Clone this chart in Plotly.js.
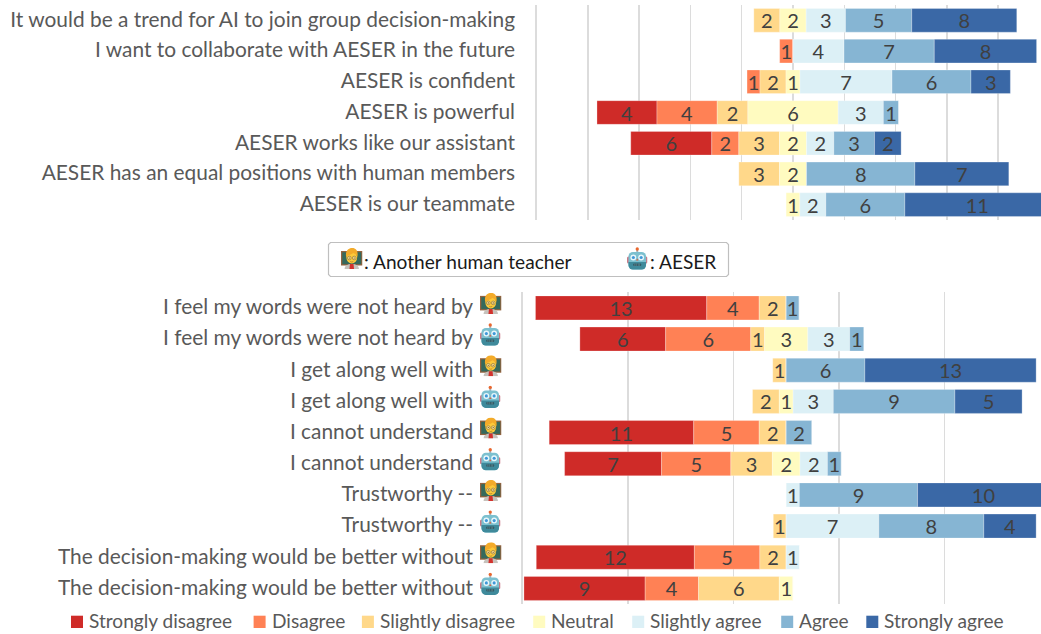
<!DOCTYPE html>
<html><head><meta charset="utf-8">
<script src="https://cdn.plot.ly/plotly-3.0.1.min.js"></script>
<style>html,body{margin:0;padding:0;background:#fff}</style></head>
<body><div id="chart" style="width:1041px;height:634px"></div>
<script>
const W = 1041, H = 634;
const seriesNames = ['Strongly disagree','Disagree','Slightly disagree','Neutral','Slightly agree','Agree','Strongly agree'];
const seriesColors = ['#CF2B28','#FF8155','#FFD88A','#FFFBC0','#DCF0F6','#86B5D3','#3A68A6'];

const topCategories = ['It would be a trend for AI to join group decision-making','I want to collaborate with AESER in the future','AESER is confident','AESER is powerful','AESER works like our assistant','AESER has an equal positions with human members','AESER is our teammate'];
// bar lengths as drawn on the value axis
const topStronglyDisagree = [0,0,0,4.68,6.32,0,0];
const topDisagree         = [0,1.04,1.01,4.70,2.11,0,0];
const topSlightlyDisagree = [2.03,0,2.03,2.39,3.17,3.17,0];
const topNeutral          = [2.05,0,1.09,7.04,2.11,2.11,1.07];
const topSlightlyAgree    = [3.07,3.98,7.18,3.53,2.13,0,2.03];
const topAgree            = [5.17,7.04,6.16,1.19,3.17,8.45,6.16];
const topStronglyAgree    = [8.19,7.98,3.07,0,2.08,7.33,11.31];
// printed labels
const topLabelsSD  = [0,0,0,4,6,0,0];
const topLabelsD   = [0,1,1,4,2,0,0];
const topLabelsSlD = [2,0,2,2,3,3,0];
const topLabelsN   = [2,0,1,6,2,2,1];
const topLabelsSlA = [3,4,7,3,2,0,2];
const topLabelsA   = [5,7,6,1,3,8,6];
const topLabelsSA  = [8,8,3,0,2,7,11];

const botCategories = ['I feel my words were not heard by','I feel my words were not heard by','I get along well with','I get along well with','I cannot understand','I cannot understand','Trustworthy --','Trustworthy --','The decision-making would be better without','The decision-making would be better without'];
const botIcons = ['teacher','robot','teacher','robot','teacher','robot','teacher','robot','teacher','robot'];
const botStronglyDisagree = [13,6.51,0,0,10.97,7.36,0,0,12,9.2];
const botDisagree         = [3.98,6.46,0,0,4.97,5.26,0,0,4.97,4.05];
const botSlightlyDisagree = [2.05,1.05,1.02,2.03,2.05,3.15,0,0.98,2,6.13];
const botNeutral          = [0,3.28,0,1.05,0,2.10,0,0,0,1.05];
const botSlightlyAgree    = [0,3.18,0,3.05,0,2.08,1.0,7.03,1.02,0];
const botAgree            = [0.98,1.08,5.97,9.23,1.95,1.05,8.97,7.97,0,0];
const botStronglyAgree    = [0,0,13.0,5.10,0,0,10,3.97,0,0];
const botLabelsSD  = [13,6,0,0,11,7,0,0,12,9];
const botLabelsD   = [4,6,0,0,5,5,0,0,5,4];
const botLabelsSlD = [2,1,1,2,2,3,0,1,2,6];
const botLabelsN   = [0,3,0,1,0,2,0,0,0,1];
const botLabelsSlA = [0,3,0,3,0,2,1,7,1,0];
const botLabelsA   = [1,1,6,9,2,1,9,8,0,0];
const botLabelsSA  = [0,0,13,5,0,0,10,4,0,0];

const FONT = 'Lato, "Open Sans", sans-serif';
const px = v => v / W;
const py = v => 1 - v / H;

function traces(vals, labels, xa, ya) {
  const n = vals[0].length, out = [];
  const starts = [];
  for (let i = 0; i < n; i++) {
    // the Neutral segment is centred on zero, the rest stack outward from it
    starts.push(-vals[3][i] / 2 - vals[0][i] - vals[1][i] - vals[2][i]);
  }
  const cursor = starts.slice();
  vals.forEach((v, s) => {
    const base = cursor.slice();
    v.forEach((w, i) => cursor[i] += w);
    out.push({
      type: 'bar', orientation: 'h', name: seriesNames[s], showlegend: false,
      x: v, y: v.map((_, i) => i), base: base,
      xaxis: xa, yaxis: ya,
      marker: {color: seriesColors[s], line: {color: 'rgba(255,255,255,0.45)', width: 0.6}},
      text: labels[s].map(l => l ? String(l) : ''),
      textposition: 'inside', insidetextanchor: 'middle', textangle: 0, constraintext: 'none',
      textfont: {family: FONT, size: 20, color: '#404040'},
      hoverinfo: 'skip'
    });
  });
  return out;
}

const data = [
  ...traces([topStronglyDisagree,topDisagree,topSlightlyDisagree,topNeutral,topSlightlyAgree,topAgree,topStronglyAgree],
            [topLabelsSD,topLabelsD,topLabelsSlD,topLabelsN,topLabelsSlA,topLabelsA,topLabelsSA],'x','y'),
  ...traces([botStronglyDisagree,botDisagree,botSlightlyDisagree,botNeutral,botSlightlyAgree,botAgree,botStronglyAgree],
            [botLabelsSD,botLabelsD,botLabelsSlD,botLabelsN,botLabelsSlA,botLabelsA,botLabelsSA],'x2','y2')
];

const svgUri = s => 'data:image/svg+xml;base64,' + btoa(s);
const teacherSvg = svgUri(`<svg xmlns="http://www.w3.org/2000/svg" viewBox="0 0 42 42" width="84" height="84">
<rect x="0" y="6" width="42" height="29" fill="#93633f"/><rect x="2.500" y="8.500" width="37" height="24" fill="#35695c"/>
<path d="M7 42c0-7 6-10 14-10s14 3 14 10z" fill="#c6c2bc"/><path d="M16.500 42l1-10h7l1 10z" fill="#d3322c"/>
<ellipse cx="21" cy="19" rx="10.500" ry="12" fill="#fcc93a"/>
<path d="M10 18C8 6 14 0 22 0c8 0 12 7 10 18-2-5-5-7-8-8-3 3-9 3-14 8z" fill="#f3ab2a"/>
<circle cx="16.200" cy="20" r="3.600" fill="#fde08a" stroke="#6b5a3a" stroke-width="1"/><circle cx="25.800" cy="20" r="3.600" fill="#fde08a" stroke="#6b5a3a" stroke-width="1"/>
<circle cx="16.200" cy="20" r="1.100" fill="#5a3b20"/><circle cx="25.800" cy="20" r="1.100" fill="#5a3b20"/>
<path d="M18 27q3 2 6 0" stroke="#8a5a20" stroke-width="1" fill="none"/></svg>`);
const robotSvg = svgUri(`<svg xmlns="http://www.w3.org/2000/svg" viewBox="0 0 42 46" width="84" height="92">
<rect x="19" y="5" width="4" height="7" fill="#a8b0b4"/><circle cx="21" cy="4" r="3.400" fill="#e9672f"/>
<rect x="0" y="19" width="6" height="14" rx="3" fill="#c97a86"/><rect x="36" y="19" width="6" height="14" rx="3" fill="#c97a86"/>
<rect x="3" y="10" width="36" height="35" rx="9" fill="#7cc0cf"/>
<path d="M3 30h36v6a9 9 0 0 1-9 9H12a9 9 0 0 1-9-9z" fill="#3f8a9b"/>
<circle cx="13" cy="21" r="6" fill="#e8f6fa"/><circle cx="29" cy="21" r="6" fill="#e8f6fa"/>
<circle cx="13" cy="21" r="3.200" fill="#3f98d8"/><circle cx="29" cy="21" r="3.200" fill="#3f98d8"/>
<path d="M21 23l2.400 4h-4.800z" fill="#e05a3a"/>
<rect x="13" y="33" width="16" height="5" rx="1.500" fill="#2e5560"/>
<path d="M16 33v5M19 33v5M23 33v5M26 33v5" stroke="#8fb7c0" stroke-width=".8"/></svg>`);
const icon = (uri, x0, y0, w, h) => ({source: uri, xref: 'paper', yref: 'paper', x: px(x0), y: py(y0), sizex: px(w), sizey: h / H, xanchor: 'left', yanchor: 'top', sizing: 'stretch', layer: 'above'});

const images = botIcons.map((kind, i) => {
  const center = 292.3 + (i + 0.5) * 31.17 - 4.5;
  return kind === 'teacher' ? icon(teacherSvg, 480, center - 10.5, 21.5, 21) : icon(robotSvg, 480, center - 11.5, 20.5, 23);
});
images.push(icon(teacherSvg, 341, 248, 21.5, 21), icon(robotSvg, 627, 247, 20.5, 23));

const shapes = [{
  type: 'path', xref: 'paper', yref: 'paper', layer: 'below', fillcolor: '#fff',
  line: {color: '#bfbfbf', width: 1.2},
  path: [[330.5,242.5,'M'],[726.5,242.5,'L'],[728.5,244.5,'L'],[728.5,274.5,'L'],[726.5,276.5,'L'],[330.5,276.5,'L'],[328.5,274.5,'L'],[328.5,244.5,'L']]
        .map(p => `${p[2]}${px(p[0])},${py(p[1])}`).join(' ') + ' Z'
}];
const annotations = [
  {text: ': Another human teacher', x: px(362), y: py(261), xanchor: 'left', yanchor: 'middle', xref: 'paper', yref: 'paper', showarrow: false, font: {family: FONT, size: 19.1, color: '#1a1a1a'}},
  {text: ': AESER', x: px(648), y: py(261), xanchor: 'left', yanchor: 'middle', xref: 'paper', yref: 'paper', showarrow: false, font: {family: FONT, size: 19.1, color: '#1a1a1a'}}
];
const swatchX = [71,253.6,361.9,533.2,632.2,781.2,866.3];
seriesNames.forEach((name, i) => {
  shapes.push({type: 'rect', xref: 'paper', yref: 'paper', x0: px(swatchX[i]), x1: px(swatchX[i] + 12), y0: py(615.7), y1: py(628), fillcolor: seriesColors[i], line: {width: 0}});
  annotations.push({text: name, x: px(swatchX[i] + 16), y: py(620.5), xanchor: 'left', yanchor: 'middle', xref: 'paper', yref: 'paper', showarrow: false, font: {family: FONT, size: 19.1, color: '#595959'}});
});

const grid = '#dcdcdc';
const yBase = {showgrid: false, zeroline: false, ticks: '', showline: true, linecolor: grid, linewidth: 1.4, tickfont: {family: FONT, size: 20.9, color: '#595959'}, autorange: false, automargin: false, ticklabelshift: 1};
const xBase = {showgrid: true, gridcolor: grid, gridwidth: 1.4, zeroline: false, showticklabels: false, ticks: '', showline: false, automargin: false, fixedrange: true};

const layout = {
  width: W, height: H, margin: {l: 0, r: 0, t: 0, b: 0, pad: 0},
  paper_bgcolor: '#fff', plot_bgcolor: 'rgba(0,0,0,0)',
  barmode: 'overlay', bargap: 0.23, showlegend: false,
  xaxis:  {...xBase, anchor: 'y',  domain: [px(536.6), 1], range: [-20, 19.345], tick0: 0,  dtick: 4},
  yaxis:  {...yBase, anchor: 'x',  domain: [py(220), py(5)], range: [6.5, -0.5], tickmode: 'array', tickvals: topCategories.map((_, i) => i), ticktext: topCategories, ticklabelstandoff: 16},
  xaxis2: {...xBase, anchor: 'y2', domain: [px(522.7), 1], range: [-20, 19.34], tick0: -20, dtick: 8},
  yaxis2: {...yBase, anchor: 'x2', domain: [py(604), py(292.3)], range: [9.5, -0.5], tickmode: 'array', tickvals: botCategories.map((_, i) => i), ticktext: botCategories, ticklabelstandoff: 44},
  shapes, annotations, images
};
Plotly.newPlot('chart', data, layout, {staticPlot: true, displayModeBar: false});
</script></body></html>
